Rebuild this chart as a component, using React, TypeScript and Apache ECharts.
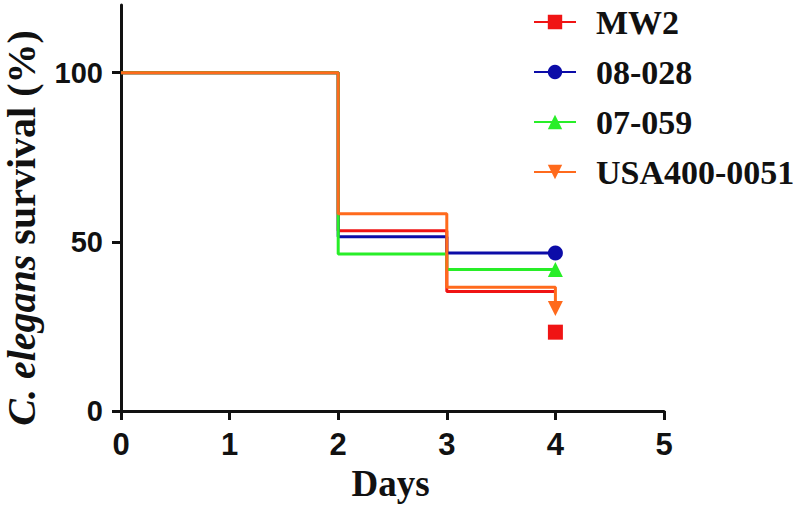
import React, { useEffect, useRef } from "react";
import * as echarts from "echarts";

const days = [0, 2, 3, 4];
const seriesNames = ["MW2", "08-028", "07-059", "USA400-0051"];
const mw2 = [100, 53.3, 35.3, 35.3];
const mw2Censored = 23.3;
const s08028 = [100, 51.5, 46.7, 46.7];
const s07059 = [100, 46.4, 41.8, 41.8];
const usa400 = [100, 58.3, 36.6, 30.3];
const xTicks = [0, 1, 2, 3, 4, 5];
const yTicks = [0, 50, 100];

const colors = ["#f01414", "#0c0ca8", "#28ee28", "#ff6a1c"];
const downTri = "path://M0,0 L10,0 L5,9 Z";
const symbols = ["rect", "circle", "triangle", downTri];

const serif = "Liberation Serif, Times New Roman, serif";
const sans = "Liberation Sans, Arial, sans-serif";

export default function App() {
  const ref = useRef<HTMLDivElement>(null);
  useEffect(() => {
    const chart = echarts.init(ref.current!, null, { renderer: "svg" });
    const vals = [mw2, s08028, s07059, usa400];
    const series: any[] = vals.map((v, si) => ({
      name: seriesNames[si],
      type: "line",
      step: "end",
      color: colors[si],
      symbol: symbols[si],
      symbolSize: 15,
      showSymbol: true,
      lineStyle: { width: 3, color: colors[si] },
      itemStyle: { color: colors[si] },
      z: 2 + si,
      data: days.map((d, i) => ({
        value: [d, v[i]],
        symbol: si === 0 || i < days.length - 1 ? "none" : symbols[si],
      })),
      markPoint:
        si === 0
          ? {
              symbol: "rect",
              symbolSize: 15,
              itemStyle: { color: colors[0] },
              label: { show: false },
              data: [{ coord: [days[days.length - 1], mw2Censored] }],
            }
          : undefined,
    }));
    chart.setOption({
      animation: false,
      backgroundColor: "#ffffff",
      grid: { left: 121, right: 136, top: 5, bottom: 108, containLabel: false, outerBoundsMode: "none" },
      legend: {
        orient: "vertical",
        left: 528,
        top: 0,
        itemWidth: 42,
        itemHeight: 18,
        itemGap: 16,
        data: seriesNames,
        textStyle: {
          fontFamily: serif,
          fontWeight: "bold",
          fontSize: 34,
          color: "#111",
          padding: [0, 0, 0, 15],
        },
      },
      xAxis: {
        type: "value",
        min: 0,
        max: 5,
        interval: 1,
        name: "Days",
        nameLocation: "middle",
        nameGap: 47,
        nameTextStyle: {
          fontFamily: serif,
          fontWeight: "bold",
          fontSize: 37,
          color: "#111",
          padding: [0, 4, 0, 0],
        },
        splitLine: { show: false },
        axisLine: { show: true, lineStyle: { color: "#111", width: 3 } },
        axisTick: { show: true, length: 9, lineStyle: { color: "#111", width: 3 }, customValues: xTicks },
        axisLabel: {
          customValues: xTicks,
          margin: 18,
          fontFamily: sans,
          fontWeight: "bold",
          fontSize: 31,
          color: "#111",
        },
      },
      yAxis: {
        type: "value",
        min: 0,
        max: 120,
        interval: 50,
        name: "{i|C. elegans} survival (%)",
        nameLocation: "middle",
        nameGap: 80,
        nameTextStyle: {
          fontFamily: serif,
          fontWeight: "bold",
          fontSize: 40,
          color: "#111",
          padding: [0, 40, 0, 0],
          rich: {
            i: {
              fontFamily: serif,
              fontWeight: "bold",
              fontStyle: "italic",
              fontSize: 40,
              color: "#111",
            },
          },
        },
        splitLine: { show: false },
        axisLine: { show: true, lineStyle: { color: "#111", width: 3 } },
        axisTick: { show: true, length: 9, lineStyle: { color: "#111", width: 3 }, customValues: yTicks },
        axisLabel: {
          customValues: yTicks,
          margin: 18,
          fontFamily: sans,
          fontWeight: "bold",
          fontSize: 29,
          color: "#111",
        },
      },
      series,
    });
    return () => chart.dispose();
  }, []);
  return <div ref={ref} style={{ width: 800, height: 519, position: "absolute", left: 0, top: 0 }} />;
}
